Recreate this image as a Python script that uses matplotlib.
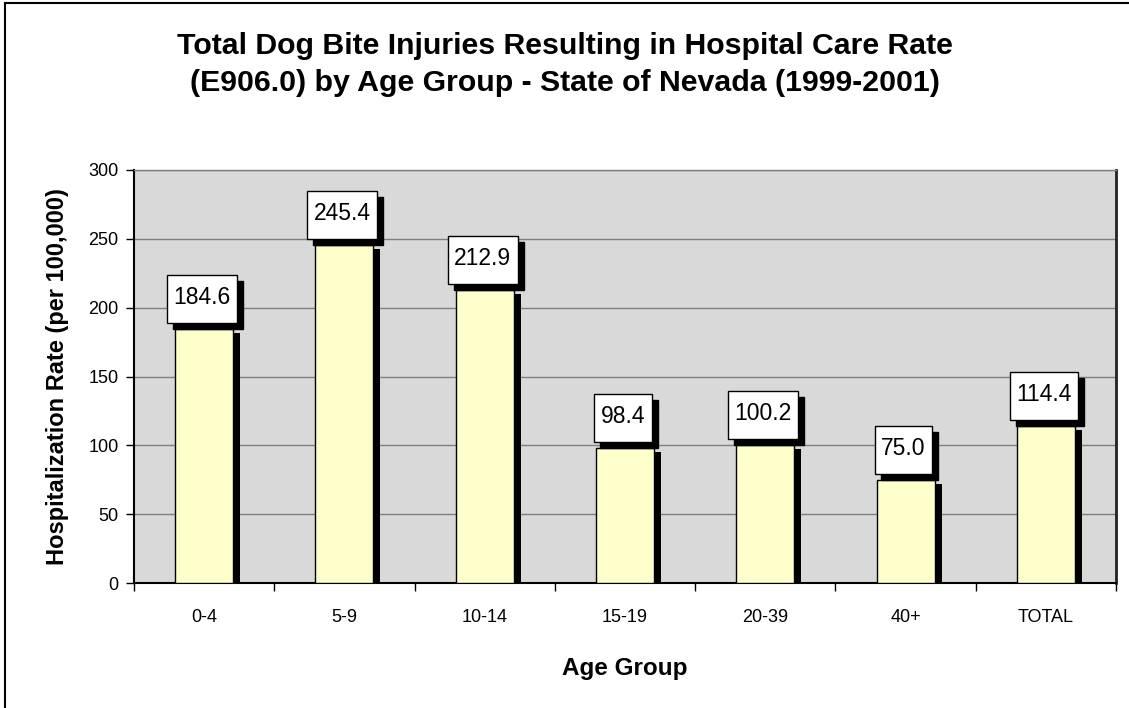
import matplotlib
matplotlib.use('Agg')
import matplotlib.pyplot as plt
from matplotlib.patches import Rectangle
from matplotlib.lines import Line2D
import matplotlib.transforms as mtransforms

plt.rcParams['font.family'] = ['Liberation Sans', 'DejaVu Sans']

age_groups = ['0-4', '5-9', '10-14', '15-19', '20-39', '40+', 'TOTAL']
rates = [184.6, 245.4, 212.9, 98.4, 100.2, 75.0, 114.4]
labels = ['184.6', '245.4', '212.9', '98.4', '100.2', '75.0', '114.4']
y_ticks = [0, 50, 100, 150, 200, 250, 300]

fig = plt.figure(figsize=(11.29, 7.08), dpi=100)
ax = fig.add_axes([134 / 1129, 1 - 583 / 708, 982 / 1129, 413 / 708])
ax.set_facecolor('#D9D9D9')

# figure border (only left and top visible in the original crop)
fig.add_artist(Line2D([5 / 1129, 5 / 1129], [0, 1 - 3 / 708], transform=fig.transFigure,
                      color='black', lw=1.5))
fig.add_artist(Line2D([5 / 1129, 1], [1 - 3 / 708, 1 - 3 / 708], transform=fig.transFigure,
                      color='black', lw=1.5))

centers = [i + 0.5 for i in range(len(age_groups))]
width = 0.413
shadow_dx = 7 / 140.3
shadow_dy = 4 / 1.377

ax.bar([c + shadow_dx for c in centers], [r - shadow_dy for r in rates], width=width,
       color='black', zorder=2)
ax.bar(centers, rates, width=width, color='#FFFFCC', edgecolor='black', lw=1, zorder=3)

fig.canvas.draw()
renderer = fig.canvas.get_renderer()
for c, r, lab in zip(centers, rates, labels):
    base = mtransforms.ScaledTranslation(c, r, ax.transData)
    tr = mtransforms.Affine2D().translate(-2, 0) + base
    t = ax.text(0, 25, lab, transform=tr, ha='center', va='baseline', fontsize=16.5,
                zorder=6)
    w = t.get_window_extent(renderer).width + 13
    ax.add_patch(Rectangle((-w / 2 + 6, 0), w, 48, transform=tr, facecolor='black',
                           edgecolor='black', zorder=4, clip_on=False))
    ax.add_patch(Rectangle((-w / 2, 6), w, 48, transform=tr, facecolor='white',
                           edgecolor='black', lw=1, zorder=5, clip_on=False))

ax.set_xlim(0, 7)
ax.set_ylim(0, 300)
ax.set_yticks(y_ticks)
ax.set_xticks(range(8))
ax.set_xticklabels([])
ax.set_xticks(centers, minor=True)
ax.set_xticklabels(age_groups, minor=True)
ax.tick_params(axis='x', which='minor', length=0, pad=19, labelsize=13)
ax.tick_params(axis='x', which='major', length=6, direction='out', width=1)
ax.tick_params(axis='y', length=6, direction='out', width=1, pad=5, labelsize=13)

ax.grid(axis='y', color='#7F7F7F', lw=1, zorder=1)
ax.set_axisbelow(True)
for s in ['left', 'bottom']:
    ax.spines[s].set_color('black')
    ax.spines[s].set_linewidth(1.5)
ax.spines['top'].set_color('#7F7F7F')
ax.spines['top'].set_linewidth(1)
ax.spines['right'].set_color('#222222')
ax.spines['right'].set_linewidth(2)

ax.set_xlabel('Age Group', fontsize=17.5, fontweight='bold', labelpad=22)
ax.set_ylabel('Hospitalization Rate (per 100,000)', fontsize=17, fontweight='bold',
              labelpad=14)

fig.text(0.5, 1 - 46 / 708, 'Total Dog Bite Injuries Resulting in Hospital Care Rate',
         ha='center', va='center', fontsize=21.8, fontweight='bold')
fig.text(0.5, 1 - 83 / 708, '(E906.0) by Age Group - State of Nevada (1999-2001)',
         ha='center', va='center', fontsize=21.8, fontweight='bold')

fig.savefig('out.png', dpi=100)
